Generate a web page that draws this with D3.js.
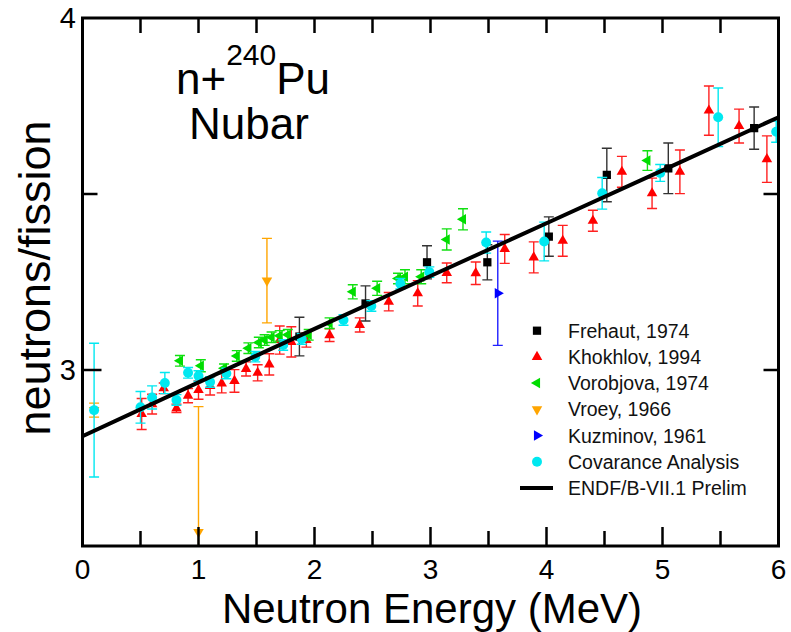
<!DOCTYPE html>
<html>
<head>
<meta charset="utf-8">
<script src="https://cdn.jsdelivr.net/npm/d3@7"></script>
<style>
  body { margin: 0; background: #fff; }
  svg { font-family: "Liberation Sans", Arial, sans-serif; }
</style>
</head>
<body>
<svg class="nubar"></svg>
<script>
// [energy MeV, nubar, uncertainty]
var frehaut = [[1.87,3.095,0.055],[2.44,3.189,0.05],[2.97,3.306,0.047],[3.49,3.306,0.05],
  [4.02,3.379,0.056],[4.52,3.554,0.076],[5.05,3.573,0.072],[5.79,3.687,0.06]];
var khokhlov = [[0.51,2.875,0.044],[0.60,2.903,0.028],[0.70,2.948,0.015],[0.81,2.891,0.012],
  [0.91,2.927,0.02],[1.0,2.943,0.026],[1.10,2.955,0.026],[1.20,2.962,0.027],[1.31,2.969,0.032],
  [1.41,3.003,0.02],[1.51,2.992,0.023],[1.61,3.016,0.03],[1.70,3.085,0.04],[1.80,3.08,0.043],
  [1.93,3.085,0.02],[2.13,3.099,0.018],[2.39,3.128,0.02],[2.64,3.194,0.026],[2.89,3.218,0.036],
  [3.14,3.276,0.028],[3.39,3.275,0.032],[3.64,3.344,0.041],[3.89,3.32,0.044],[4.14,3.367,0.044],
  [4.40,3.424,0.03],[4.65,3.563,0.044],[4.91,3.502,0.043],[5.15,3.563,0.062],[5.40,3.737,0.07],
  [5.66,3.693,0.048],[5.90,3.599,0.066]];
var vorobjova = [[0.84,3.026,0.015],[1.02,3.012,0.017],[1.22,3.005,0.012],[1.33,3.04,0.015],
  [1.43,3.062,0.015],[1.52,3.078,0.015],[1.57,3.085,0.015],[1.63,3.093,0.015],[1.70,3.097,0.015],
  [1.77,3.10,0.015],[1.95,3.10,0.015],[2.13,3.133,0.015],[2.33,3.222,0.02],[2.54,3.232,0.02],
  [2.72,3.26,0.015],[2.78,3.265,0.02],[2.92,3.265,0.02],[3.14,3.371,0.03],[3.28,3.428,0.03],
  [4.87,3.595,0.028]];
var vroey = [[0.1,2.886,0.02],[1.0,2.54,0.356],[1.59,3.254,0.12]];
var kuzminov = [[3.58,3.218,0.148]];
var covariance = [[0.1,2.886,0.19],[0.5,2.894,0.045],[0.6,2.922,0.033],[0.71,2.963,0.03],
  [0.81,2.915,0.015],[0.91,2.992,0.015],[1.0,2.983,0.015],[1.10,2.966,0.015],[1.24,2.99,0.015],
  [1.49,3.038,0.015],[1.73,3.071,0.015],[1.89,3.088,0.015],[2.25,3.142,0.015],[2.49,3.182,0.015],
  [2.74,3.245,0.015],[2.99,3.278,0.015],[3.48,3.362,0.03],[3.98,3.365,0.055],[4.48,3.502,0.045],
  [4.98,3.56,0.024],[5.48,3.718,0.083],[5.98,3.677,0.03]];
var endfE = [0, 1, 2, 3, 4, 5, 6];
var endfNu = [2.812, 2.965, 3.117, 3.267, 3.417, 3.567, 3.718];

var xTicks = [0, 1, 2, 3, 4, 5, 6];
var yTicks = [3, 4];

var series = [
  {name: "Frehaut, 1974", data: frehaut, color: "#000000", bar: "#333333", shape: "square"},
  {name: "Khokhlov, 1994", data: khokhlov, color: "#ff0000", bar: "#ff2020", shape: "up"},
  {name: "Vorobjova, 1974", data: vorobjova, color: "#00dd00", bar: "#10e010", shape: "left"},
  {name: "Vroey, 1966", data: vroey, color: "#ffa500", bar: "#ffa500", shape: "down"},
  {name: "Kuzminov, 1961", data: kuzminov, color: "#0000ff", bar: "#2020ff", shape: "right"},
  {name: "Covarance Analysis", data: covariance, color: "#00e8f0", bar: "#00e8f0", shape: "circle"}
];

(function () {
  var width = 791, height = 632;
  var margin = {top: 18, right: 12.5, bottom: 86, left: 82.5};
  var w = width - margin.left - margin.right;
  var h = height - margin.top - margin.bottom;

  var svg = d3.select(".nubar").attr("width", width).attr("height", height);

  var x = d3.scaleLinear().domain([0, 6]).range([margin.left, margin.left + w]);
  var y = d3.scaleLinear().domain([2.5, 4]).range([margin.top + h, margin.top]);

  svg.append("clipPath").attr("id", "plotclip")
    .append("rect").attr("x", x(0)).attr("y", y(4)).attr("width", w).attr("height", h);

  var plot = svg.append("g").attr("clip-path", "url(#plotclip)");

  function symbolPath(shape) {
    if (shape === "square") return d3.symbol(d3.symbolSquare, 68)();
    if (shape === "circle") return d3.symbol(d3.symbolCircle, 78)();
    return d3.symbol(d3.symbolTriangle, 48)();
  }
  function rot(shape) {
    return {up: 0, down: 180, left: -90, right: 90}[shape] || 0;
  }

  series.forEach(function (s) {
    var g = plot.append("g");
    var cap = 5;
    g.selectAll("path.err")
      .data(s.data)
      .enter().append("path")
        .attr("class", "err")
        .attr("d", function (d) {
          var cx = x(d[0]), t = y(d[1] + d[2]), b = y(d[1] - d[2]);
          return "M" + cx + "," + t + "V" + b +
            "M" + (cx - cap) + "," + t + "H" + (cx + cap) +
            "M" + (cx - cap) + "," + b + "H" + (cx + cap);
        })
        .style("fill", "none")
        .style("stroke", s.bar)
        .style("stroke-width", 1.4);
    g.selectAll("path.mark")
      .data(s.data)
      .enter().append("path")
        .attr("class", "mark")
        .attr("d", symbolPath(s.shape))
        .attr("transform", function (d) {
          return "translate(" + x(d[0]) + "," + y(d[1]) + ") rotate(" + rot(s.shape) + ")";
        })
        .style("fill", s.color);
  });

  var line = d3.line()
    .x(function (d, i) { return x(endfE[i]); })
    .y(function (d) { return y(d); });
  plot.append("path")
    .attr("d", line(endfNu))
    .style("fill", "none")
    .style("stroke", "#000")
    .style("stroke-width", 4);

  // frame and inward ticks
  var axes = svg.append("g").style("stroke", "#000").style("fill", "none");
  axes.append("rect")
    .attr("x", x(0)).attr("y", y(4)).attr("width", w).attr("height", h)
    .style("stroke-width", 3);

  var xMinor = d3.range(0.5, 6, 1);
  var yMinor = [3.5];
  function tickLen(major) { return major ? 19 : 15; }

  xTicks.concat(xMinor).forEach(function (v) {
    if (v === 0 || v === 6) return;
    var L = tickLen(xTicks.indexOf(v) >= 0);
    axes.append("path").attr("d", "M" + x(v) + "," + y(2.5) + "v" + (-L)).style("stroke-width", 2.5);
    axes.append("path").attr("d", "M" + x(v) + "," + y(4) + "v" + 15).style("stroke-width", 2.5);
  });
  yTicks.concat(yMinor).forEach(function (v) {
    if (v === 4) return;
    var L = tickLen(yTicks.indexOf(v) >= 0);
    axes.append("path").attr("d", "M" + x(0) + "," + y(v) + "h" + L).style("stroke-width", 2.5);
    axes.append("path").attr("d", "M" + x(6) + "," + y(v) + "h" + (-15)).style("stroke-width", 2.5);
  });

  // tick labels
  svg.selectAll("text.xt")
    .data(xTicks)
    .enter().append("text")
      .attr("class", "xt")
      .attr("x", function (d) { return x(d); })
      .attr("y", 579)
      .attr("text-anchor", "middle")
      .style("font-size", "28px")
      .text(function (d) { return d; });
  svg.selectAll("text.yt")
    .data(yTicks)
    .enter().append("text")
      .attr("class", "yt")
      .attr("x", 76)
      .attr("y", function (d) { return y(d); })
      .attr("dy", "0.36em")
      .attr("text-anchor", "end")
      .style("font-size", "29px")
      .text(function (d) { return d; });

  // axis titles
  svg.append("text")
    .attr("x", 432).attr("y", 623)
    .attr("text-anchor", "middle")
    .style("font-size", "42px")
    .text("Neutron Energy (MeV)");
  svg.append("text")
    .attr("transform", "translate(50,278) rotate(-90)")
    .attr("text-anchor", "middle")
    .style("font-size", "45px")
    .text("neutrons/fission");

  // title
  var title = svg.append("text").attr("x", 176).attr("y", 94).style("font-size", "44px");
  title.append("tspan").text("n+");
  title.append("tspan").attr("dy", -29).style("font-size", "30px").text("240");
  title.append("tspan").attr("dy", 29).text("Pu");
  svg.append("text")
    .attr("x", 249).attr("y", 139)
    .attr("text-anchor", "middle")
    .style("font-size", "44px")
    .text("Nubar");

  // legend
  var legend = svg.append("g");
  var rowY = function (i) { return 330.7 + i * 26.2; };
  series.forEach(function (s, i) {
    legend.append("path")
      .attr("d", symbolPath(s.shape))
      .attr("transform", "translate(537," + rowY(i) + ") rotate(" + rot(s.shape) + ")")
      .style("fill", s.color);
    legend.append("text")
      .attr("x", 568).attr("y", rowY(i))
      .attr("dy", "0.36em")
      .style("font-size", "19.5px")
      .style("fill", "#111")
      .text(s.name);
  });
  legend.append("path")
    .attr("d", "M520," + rowY(6) + "H553")
    .style("stroke", "#000").style("stroke-width", 4);
  legend.append("text")
    .attr("x", 568).attr("y", rowY(6))
    .attr("dy", "0.36em")
    .style("font-size", "19.5px")
    .style("fill", "#111")
    .text("ENDF/B-VII.1 Prelim");
})();
</script>
</body>
</html>
